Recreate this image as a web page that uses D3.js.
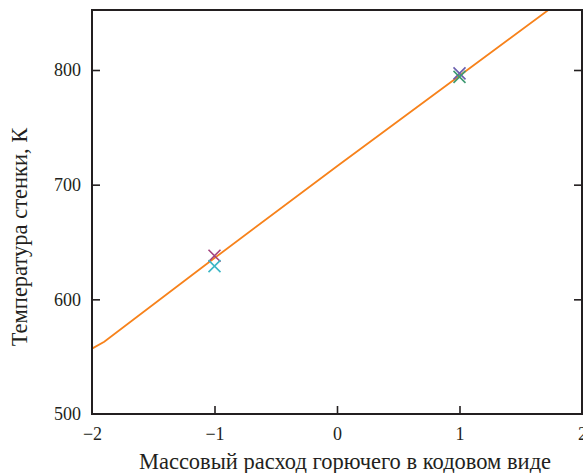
<!DOCTYPE html>
<html><head><meta charset="utf-8">
<script src="https://cdn.jsdelivr.net/npm/d3@7/dist/d3.min.js"></script>
<style>body{margin:0;background:#fff}svg{display:block}</style>
</head><body>
<svg id="c" width="583" height="473"></svg>
<script>
const xTicks = [-2, -1, 0, 1, 2];
const xTickLabels = ["\u22122", "\u22121", "0", "1", "2"];
const yTicks = [500, 600, 700, 800];
const lineX = [-2, -1.9, -1, 0, 1, 2];
const lineY = [557, 563, 636, 716, 795, 874];
const pointX = [-1, -1, 1, 1];
const pointY = [638, 629, 797, 794];
const pointColors = ["#a4447e", "#3db7c6", "#6a5fae", "#3e9a72"];
const xTitle = "Массовый расход горючего в кодовом виде";
const yTitle = "Температура стенки, К";

const svg = d3.select("#c");
const L = 92, R = 582, T = 10, B = 414;
const x = d3.scaleLinear().domain([-2, 2]).range([L, R]);
const y = d3.scaleLinear().domain([500, 800]).range([B, 70]);
const font = "'Liberation Serif', 'Times New Roman', serif";

svg.append("clipPath").attr("id", "clip").append("rect")
  .attr("x", L).attr("y", T).attr("width", R - L).attr("height", B - T);

const line = d3.line().x(d => x(d[0])).y(d => y(d[1]));
svg.append("path").datum(lineX.map((v, i) => [v, lineY[i]]))
  .attr("d", line).attr("fill", "none").attr("stroke", "#f7821b")
  .attr("stroke-width", 1.8).attr("clip-path", "url(#clip)");

const s = 6;
pointX.forEach((px, i) => {
  const cx = x(px), cy = y(pointY[i]);
  svg.append("path")
    .attr("d", `M${cx - s},${cy - s}L${cx + s},${cy + s}M${cx - s},${cy + s}L${cx + s},${cy - s}`)
    .attr("stroke", pointColors[i]).attr("stroke-width", 1.6).attr("fill", "none");
});

svg.append("rect").attr("x", L).attr("y", T).attr("width", R - L).attr("height", B - T)
  .attr("fill", "none").attr("stroke", "#231f20").attr("stroke-width", 2);

const tl = 8;
const gx = svg.append("g").attr("transform", `translate(0,${B})`)
  .call(d3.axisBottom(x).tickValues(xTicks).tickSize(-tl).tickPadding(tl + 5)
    .tickFormat((d, i) => xTickLabels[i]));
const gy = svg.append("g").attr("transform", `translate(${L},0)`)
  .call(d3.axisLeft(y).tickValues(yTicks).tickSize(-tl).tickPadding(11));
const gyr = svg.append("g").attr("transform", `translate(${R},0)`)
  .call(d3.axisRight(y).tickValues(yTicks).tickSize(-tl).tickFormat(""));
[gx, gy, gyr].forEach(g => {
  g.select(".domain").remove();
  g.selectAll("line").attr("stroke", "#231f20").attr("stroke-width", 1.6);
  g.selectAll("text").attr("font-family", font).attr("font-size", 18).attr("fill", "#231f20");
});
gx.selectAll(".tick").filter(d => d === -2 || d === 2).select("line").remove();
gy.selectAll(".tick").filter(d => d === 500).select("line").remove();
gyr.selectAll(".tick").filter(d => d === 500).select("line").remove();

svg.append("text").attr("x", 345).attr("y", 469).attr("text-anchor", "middle")
  .attr("font-family", font).attr("font-size", 22.5).attr("fill", "#231f20").text(xTitle);
svg.append("text").attr("transform", "translate(27,237) rotate(-90)").attr("text-anchor", "middle")
  .attr("font-family", font).attr("font-size", 22.5).attr("fill", "#231f20").text(yTitle);
</script>
</body></html>
